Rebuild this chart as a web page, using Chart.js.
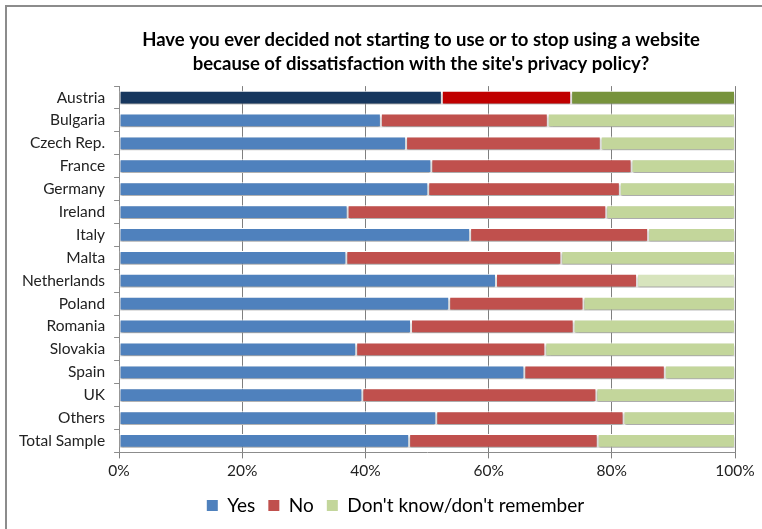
<!DOCTYPE html>
<html>
<head>
<meta charset="utf-8">
<script src="https://cdn.jsdelivr.net/npm/chart.js@4/dist/chart.umd.min.js"></script>
<style>
  html, body { margin: 0; padding: 0; background: #fff; overflow: hidden; }
  #wrap { position: relative; width: 762px; height: 529px; }
  #frame { position: absolute; left: 5px; top: 5px; width: 800px; height: 600px;
           border-left: 2px solid #8c8c8c; border-top: 2px solid #8c8c8c; }
  canvas { position: absolute; left: 0; top: 0; }
</style>
</head>
<body>
<div id="wrap">
  <div id="frame"></div>
  <canvas id="chart" width="762" height="529"></canvas>
</div>
<script>
const countries = [
  "Austria", "Bulgaria", "Czech Rep.", "France", "Germany", "Ireland", "Italy",
  "Malta", "Netherlands", "Poland", "Romania", "Slovakia", "Spain", "UK",
  "Others", "Total Sample"
];
const yes = [52.4, 42.5, 46.6, 50.7, 50.2, 37.1, 57.0, 36.9, 61.2, 53.6, 47.4, 38.5, 65.8, 39.5, 51.5, 47.1];
const no = [21.0, 27.1, 31.6, 32.5, 31.1, 42.0, 28.9, 34.9, 22.9, 21.8, 26.4, 30.7, 22.8, 38.0, 30.4, 30.6];
const dontKnow = [26.6, 30.4, 21.8, 16.8, 18.7, 20.9, 14.1, 28.2, 15.9, 24.6, 26.2, 30.8, 11.4, 22.5, 18.1, 22.3];
const xTicks = [0, 20, 40, 60, 80, 100];

const seriesNames = ["Yes", "No", "Don't know/don't remember"];
const baseColors = ["#4F81BD", "#C0504D", "#C3D69B"];
// Austria is highlighted with darker colours, Netherlands has a paler third segment
const austriaColors = ["#17375E", "#C00000", "#77933C"];

const colorsFor = (i) => countries.map((c) => {
  if (c === "Austria") return austriaColors[i];
  if (c === "Netherlands" && i === 2) return "#D7E4BD";
  return baseColors[i];
});

const barShadow = {
  id: "barShadow",
  beforeDatasetsDraw(chart) {
    const ctx = chart.ctx;
    ctx.save();
    ctx.shadowColor = "rgba(0,0,0,0.35)";
    ctx.shadowOffsetY = 2;
    ctx.shadowOffsetX = 0;
    ctx.shadowBlur = 2;
  },
  afterDatasetsDraw(chart) {
    chart.ctx.restore();
  }
};

// nudge title and legend sideways to where they sit in the original
const nudgeBoxes = {
  id: "nudgeBoxes",
  afterLayout(chart) {
    if (chart.titleBlock) {
      chart.titleBlock.left -= 6;
      chart.titleBlock.right -= 6;
    }
    if (chart.legend) {
      chart.legend.left += 23;
      chart.legend.right += 23;
    }
  }
};

const font = "Lato, 'Open Sans', sans-serif";

new Chart(document.getElementById("chart"), {
  type: "bar",
  data: {
    labels: countries,
    datasets: [yes, no, dontKnow].map((values, i) => ({
      label: seriesNames[i],
      data: values,
      backgroundColor: colorsFor(i),
      borderColor: "#ffffff",
      borderWidth: 1,
      borderSkipped: false,
      barPercentage: 0.6,
      categoryPercentage: 1
    }))
  },
  options: {
    indexAxis: "y",
    responsive: false,
    animation: false,
    layout: { padding: { left: 10, right: 27, top: 14, bottom: 4 } },
    scales: {
      x: {
        stacked: true,
        min: 0,
        max: 100,
        afterBuildTicks: (axis) => { axis.ticks = xTicks.map((v) => ({ value: v })); },
        ticks: {
          callback: (v) => v + "%",
          color: "#222",
          font: { family: font, size: 15.5 },
          padding: 3
        },
        grid: { color: "#7f7f7f", tickLength: 6, drawOnChartArea: true },
        border: { color: "#8c8c8c", width: 1 }
      },
      y: {
        stacked: true,
        ticks: {
          color: "#222",
          font: { family: font, size: 15.5 },
          padding: 9
        },
        grid: { drawOnChartArea: false, color: "#8c8c8c", tickLength: 5, offset: true },
        border: { color: "#8c8c8c", width: 1 }
      }
    },
    plugins: {
      title: {
        display: true,
        fullSize: false,
        text: [
          "Have you ever decided not starting to use or to stop using a website",
          "because of dissatisfaction with the site's privacy policy?"
        ],
        color: "#000",
        font: { family: font, size: 18.5, weight: "bold", lineHeight: 1.3 },
        padding: { top: 14, bottom: 10 }
      },
      legend: {
        position: "bottom",
        labels: {
          color: "#222",
          font: { family: font, size: 19 },
          boxWidth: 11,
          boxHeight: 11,
          padding: 13,
          generateLabels: () => seriesNames.map((name, i) => ({
            text: name,
            fillStyle: baseColors[i],
            strokeStyle: baseColors[i],
            lineWidth: 0,
            datasetIndex: i
          }))
        }
      },
      tooltip: { enabled: false }
    }
  },
  plugins: [barShadow, nudgeBoxes]
});
</script>
</body>
</html>
